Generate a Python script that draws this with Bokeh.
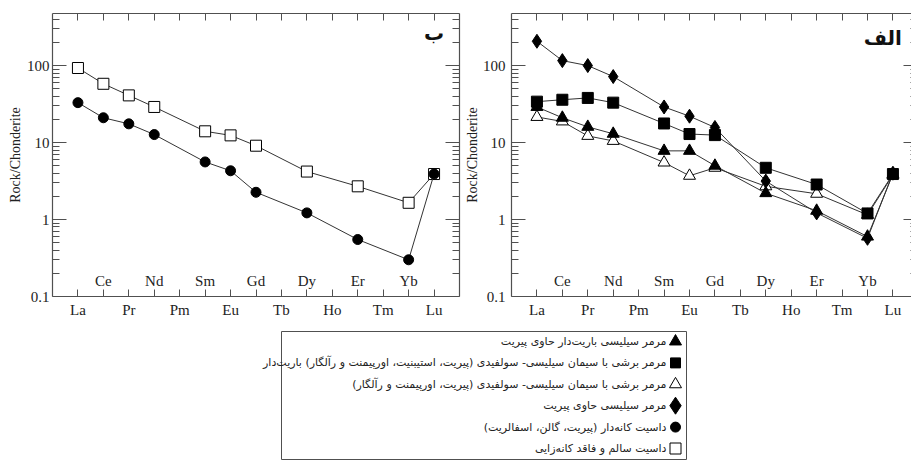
from bokeh.plotting import figure
from bokeh.models import (Range1d, LogAxis, LinearAxis, FixedTicker,
                          CustomJSTickFormatter)
from bokeh.layouts import column, row
from bokeh.core.properties import value
from bokeh.embed import file_html
from bokeh.resources import INLINE

# ---------------- data ----------------
elements = ["La", "Ce", "Pr", "Nd", "Pm", "Sm", "Eu", "Gd", "Tb", "Dy",
            "Ho", "Er", "Tm", "Yb", "Lu"]
measured = ["La", "Ce", "Pr", "Nd", "Sm", "Eu", "Gd", "Dy", "Er", "Yb", "Lu"]

# panel "ب"
dacite_barren = [93, 58, 41, 29, 14.0, 12.4, 9.1, 4.2, 2.7, 1.65, 3.9]          # open square
dacite_mineralized = [33, 21, 17.5, 12.7, 5.6, 4.3, 2.26, 1.22, 0.55, 0.30, 3.9]  # filled circle

# panel "الف"
marble_barite_pyrite = [29, 21, 16, 13, 7.8, 7.8, 5.0, 2.2, 1.3, 0.60, 3.9]       # filled triangle
breccia_barite = [34, 36, 38, 33, 17.7, 12.9, 12.5, 4.7, 2.85, 1.2, 3.9]          # filled square
breccia = [21.5, 18.8, 12.2, 10.5, 5.5, 3.7, 4.7, 2.7, 2.16, 1.15, 3.8]           # open triangle
marble_pyrite = [207, 116, 100, 72, 29, 22, 15.7, 3.16, 1.22, 0.57, 4.0]          # filled diamond

legend_labels = [
    "مرمر سیلیسی باریت‌دار حاوی پیریت",
    "مرمر برشی با سیمان سیلیسی- سولفیدی (پیریت، استیبنیت، اورپیمنت و رآلگار) باریت‌دار",
    "مرمر برشی با سیمان سیلیسی- سولفیدی (پیریت، اورپیمنت و رآلگار)",
    "مرمر سیلیسی حاوی پیریت",
    "داسیت کانه‌دار (پیریت، گالن، اسفالریت)",
    "داسیت سالم و فاقد کانه‌زایی",
]
legend_markers = ["triangle", "square", "triangle", "diamond", "circle", "square"]
legend_fills = ["black", "black", "white", "black", "black", "white"]
legend_sizes = [12, 10, 12, 17, 10, 11]

y_major = [0.1, 1, 10, 100]
y_minor = [m * d for d in [0.1, 1, 10, 100] for m in range(2, 10) if m * d < 480]
y_label = "Rock/Chonderite"

# ---------------- style ----------------
FRAME = "#505050"
SERIF = "Liberation Serif"
AR = "DejaVu Sans"


def idx(names):
    return [elements.index(n) for n in names]


def make_panel(width, border_left, border_right, x_end, title, title_x, title_y,
               label_standoff, axlabel_standoff, show_right_line=True):
    p = figure(width=width, height=322, x_range=Range1d(-1, x_end),
               y_range=Range1d(0.1, 475), y_axis_type="log",
               toolbar_location=None, output_backend="svg",
               min_border_left=border_left, min_border_right=border_right,
               min_border_top=13, min_border_bottom=26)
    p.outline_line_color = None
    p.xgrid.visible = False
    p.ygrid.visible = False

    xt = FixedTicker(ticks=list(range(len(elements))))
    yt = FixedTicker(ticks=y_major, minor_ticks=y_minor)
    yfmt = CustomJSTickFormatter(code="return String(tick);")

    # bottom axis
    xa = p.xaxis[0]
    xa.ticker = xt
    xa.major_label_overrides = {i: (e if i % 2 == 0 else "") for i, e in enumerate(elements)}
    xa.major_tick_in = 7
    xa.major_tick_out = 0
    xa.major_label_standoff = 5
    # left axis
    ya = p.yaxis[0]
    ya.ticker = yt
    ya.formatter = yfmt
    ya.axis_label = y_label
    ya.axis_label_standoff = axlabel_standoff
    ya.major_tick_in = 14
    ya.major_tick_out = 0
    ya.minor_tick_in = 7
    ya.minor_tick_out = 0
    ya.major_label_standoff = label_standoff

    blank_x = {i: "" for i in range(len(elements))}
    top = LinearAxis(ticker=xt, major_tick_in=7, major_tick_out=0,
                     major_label_overrides=blank_x,
                     major_label_text_font_size="1px", major_label_standoff=0)
    right = LogAxis(ticker=yt, major_tick_in=14 if show_right_line else 8,
                    major_tick_out=0, minor_tick_in=7 if show_right_line else 1,
                    minor_tick_out=0,
                    formatter=CustomJSTickFormatter(code="return '';"),
                    major_label_text_font_size="1px", major_label_standoff=0)
    p.add_layout(top, "above")
    p.add_layout(right, "right")

    for ax in [xa, ya, top, right]:
        ax.axis_line_color = FRAME
        ax.axis_line_width = 1.2
        ax.major_tick_line_color = FRAME
        ax.minor_tick_line_color = FRAME
        ax.major_label_text_font = SERIF
        ax.major_label_text_color = "#222222"
    if not show_right_line:
        right.axis_line_color = None
    xa.major_label_text_font_size = "15px"
    ya.major_label_text_font_size = "15px"
    ya.axis_label_text_font = SERIF
    ya.axis_label_text_font_size = "14px"
    ya.axis_label_text_font_style = "normal"
    ya.axis_label_text_color = "#222222"

    # odd element names inside the frame
    odd = [i for i in range(len(elements)) if i % 2 == 1]
    p.text(x=odd, y=[p.y_range.start] * len(odd), text=[elements[i] for i in odd],
           text_font=value(SERIF), text_font_size="15px", text_color="#222222",
           text_align="center", text_baseline="alphabetic", y_offset=-16)

    p.text(x=[title_x], y=[title_y], text=[title], text_font=value(AR),
           text_font_size="20px", text_font_style="bold",
           text_align="center", text_baseline="middle", text_color="#111111")
    return p


def series(p, vals, marker, fill, size):
    xs = idx(measured)
    p.line(xs, vals, line_color="#333333", line_width=1)
    p.scatter(xs, vals, marker=marker, size=size, fill_color=fill,
              line_color="black", line_width=1)


# panel ب (left)
p1 = make_panel(461, 52, 2, 15, "ب", 14.0, 265, 3, 1)
series(p1, dacite_barren, "square", "white", 11)
series(p1, dacite_mineralized, "circle", "black", 10)

# panel الف (right)
p2 = make_panel(450, 49, 0, 14.73, "الف", 13.6, 230, 6, 0, show_right_line=False)
series(p2, breccia, "triangle", "white", 12)
series(p2, marble_barite_pyrite, "triangle", "black", 12)
series(p2, marble_pyrite, "diamond", "black", 14)
series(p2, breccia_barite, "square", "black", 11)

# legend panel
LW, LH = 911, 139
leg = figure(width=LW, height=LH, x_range=Range1d(0, LW), y_range=Range1d(LH, 0),
             toolbar_location=None, output_backend="svg", min_border=0,
             x_axis_type=None, y_axis_type=None)
leg.outline_line_color = None
leg.quad(left=[281], right=[686], top=[9], bottom=[137],
         fill_color=None, line_color=FRAME, line_width=1)
n = len(legend_labels)
rows_y = [19 + 21.4 * i for i in range(n)]
leg.scatter([675] * n, rows_y, marker=legend_markers, size=legend_sizes,
            fill_color=legend_fills, line_color="black", line_width=1)
leg.text([666] * n, rows_y, text=[t + "\u200f" for t in legend_labels],
         text_font=value(AR), text_font_size="11px", text_color="#222222",
         text_align="right", text_baseline="middle")

layout = column(row(p1, p2), leg)
open("out.html", "w").write(file_html(layout, INLINE))
